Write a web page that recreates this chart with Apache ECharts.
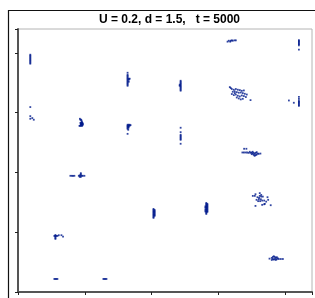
<!DOCTYPE html>
<html>
<head>
<meta charset="utf-8">
<script src="https://cdn.jsdelivr.net/npm/echarts@6/dist/echarts.min.js"></script>
<style>
  html, body { margin: 0; padding: 0; background: #fff; }
  #chart { width: 315px; height: 298px; }
</style>
</head>
<body>
<div id="chart"></div>
<script>
var titleText = 'U = 0.2, d = 1.5,   t = 5000'
var xTicks = [0, 5, 10, 15, 20]
var yTicks = [0, 5, 10, 15, 20]

// particle groups (x, y)
var g01 = [[0.92, 19.10], [0.92, 19.18], [0.92, 19.27], [0.92, 19.35], [0.92, 19.43], [0.92, 19.52], [0.92, 19.60], [0.92, 19.69], [0.92, 19.77], [0.92, 19.85]]
var g02 = [[0.92, 15.47], [0.92, 14.71], [0.92, 14.49], [1.07, 14.55], [1.18, 14.41]]
var g03 = [[4.63, 14.49], [4.67, 14.41], [4.73, 14.41], [4.75, 14.32], [4.78, 14.24], [4.67, 14.15], [4.73, 14.15], [4.78, 14.15], [4.82, 14.15], [4.70, 14.07], [4.75, 14.07], [4.80, 14.07], [4.85, 14.07], [4.70, 13.99], [4.75, 13.99], [4.80, 13.99], [4.85, 13.99], [4.60, 13.90], [4.65, 13.90], [4.73, 13.90], [4.80, 13.90]]
var g04 = [[8.20, 18.34], [8.20, 18.17], [8.20, 18.09], [8.20, 18.01], [8.20, 17.92], [8.20, 17.84], [8.20, 17.76], [8.20, 17.67], [8.20, 17.59], [8.20, 17.50], [8.20, 17.42], [8.20, 17.34], [8.20, 17.25], [8.29, 17.84], [8.36, 17.84], [8.29, 17.76], [8.29, 17.59]]
var g05 = [[8.20, 13.99], [8.27, 13.99], [8.35, 13.99], [8.42, 13.96], [8.20, 13.90], [8.27, 13.90], [8.35, 13.90], [8.20, 13.82], [8.27, 13.82], [8.20, 13.74], [8.27, 13.74], [8.20, 13.65], [8.25, 13.57], [8.20, 13.23]]
var g06 = [[15.68, 20.94], [15.77, 21.02], [15.88, 20.94], [15.92, 21.02], [16.00, 21.05], [16.07, 21.02], [16.20, 21.05], [16.30, 21.05]]
var g07 = [[21.02, 21.06], [21.02, 20.98], [21.02, 20.90], [21.02, 20.81], [21.02, 20.73], [21.02, 20.64], [21.02, 20.27]]
var g08 = [[12.17, 17.67], [12.17, 17.59], [12.17, 17.50], [12.17, 17.42], [12.17, 17.34], [12.17, 17.25], [12.17, 17.17], [12.17, 17.09], [12.17, 17.01], [12.17, 16.92], [12.17, 16.84], [12.10, 17.34], [12.10, 17.25]]
var g09 = [[15.85, 17.14], [15.92, 17.06], [16.00, 16.98], [16.15, 16.92], [16.30, 16.98], [16.45, 16.92], [16.60, 16.89], [16.75, 16.83], [16.90, 16.86], [16.07, 16.75], [16.22, 16.78], [16.37, 16.72], [16.52, 16.67], [16.67, 16.69], [16.82, 16.64], [16.97, 16.58], [17.12, 16.52], [16.00, 16.56], [16.15, 16.47], [16.30, 16.52], [16.45, 16.42], [16.60, 16.36], [16.75, 16.44], [16.90, 16.39], [17.05, 16.31], [16.37, 16.27], [16.52, 16.19], [16.82, 16.16], [16.67, 16.11], [16.22, 16.64], [17.40, 16.05]]
var g10 = [[20.27, 16.02], [20.64, 15.83], [21.02, 16.33], [21.02, 16.16], [21.02, 16.00], [21.02, 15.91], [21.02, 15.83], [21.02, 15.75], [21.02, 15.66], [21.02, 15.58]]
var g11 = [[12.17, 13.74], [12.17, 13.37], [12.17, 13.15], [12.17, 13.07], [12.17, 12.98], [12.17, 12.90], [12.17, 12.81], [12.17, 12.73], [12.17, 12.40]]
var g12 = [[16.92, 11.98], [17.09, 11.98], [16.79, 11.67], [16.90, 11.67], [17.02, 11.67], [17.14, 11.67], [17.26, 11.64], [17.34, 11.73], [17.41, 11.64], [17.49, 11.67], [17.56, 11.58], [17.64, 11.64], [17.71, 11.56], [17.79, 11.64], [17.86, 11.50], [17.94, 11.58], [18.01, 11.56], [17.49, 11.53], [17.64, 11.47], [17.71, 11.39], [17.79, 11.45], [18.14, 11.58], [17.56, 11.73], [17.86, 11.70]]
var g13 = [[3.92, 9.72], [4.03, 9.72], [4.12, 9.72], [4.22, 9.72], [4.70, 9.94], [4.70, 9.84], [4.55, 9.72], [4.62, 9.76], [4.70, 9.76], [4.77, 9.72], [4.85, 9.72], [4.62, 9.63], [4.70, 9.63], [4.97, 9.72]]
var g14 = [[10.14, 6.95], [10.14, 6.87], [10.14, 6.78], [10.14, 6.70], [10.14, 6.62], [10.14, 6.53], [10.14, 6.45], [10.14, 6.37], [10.14, 6.28], [10.14, 6.20], [10.22, 6.87], [10.22, 6.78], [10.22, 6.70], [10.22, 6.62], [10.22, 6.53], [10.22, 6.45], [10.22, 6.37]]
var g15 = [[2.72, 4.69], [2.80, 4.69], [2.87, 4.69], [2.95, 4.69], [2.80, 4.77], [2.80, 4.61], [2.80, 4.52], [2.80, 4.44], [3.05, 4.75], [3.25, 4.75], [3.37, 4.63]]
var g16 = [[2.72, 1.09], [2.80, 1.09], [2.87, 1.09], [2.95, 1.09]]
var g17 = [[6.39, 1.09], [6.47, 1.09], [6.54, 1.09], [6.62, 1.09]]
var g18 = [[14.09, 7.45], [14.09, 7.37], [14.09, 7.29], [14.09, 7.20], [14.09, 7.12], [14.09, 7.04], [14.09, 6.95], [14.09, 6.87], [14.09, 6.78], [14.09, 6.70], [14.09, 6.62], [14.09, 6.53], [14.17, 7.37], [14.17, 7.29], [14.17, 7.20], [14.17, 7.12], [14.17, 7.04], [14.17, 6.95], [14.17, 6.87], [14.17, 6.78], [14.17, 6.70], [14.02, 7.16], [14.02, 7.04], [14.02, 6.87], [14.02, 6.74]]
var g19 = [[17.57, 8.04], [17.72, 8.04], [17.77, 8.18], [17.92, 7.93], [18.09, 8.27], [18.09, 8.04], [18.20, 7.98], [18.32, 7.98], [18.02, 7.76], [18.17, 7.76], [17.85, 7.71], [17.97, 7.60], [18.12, 7.60], [18.27, 7.65], [18.42, 7.65], [18.67, 7.93], [18.72, 7.71], [18.57, 7.56], [18.42, 7.34], [18.27, 7.29], [18.47, 7.37], [18.91, 7.26], [17.77, 7.20], [18.20, 8.12], [18.04, 7.87]]
var g20 = [[18.82, 2.79], [18.99, 2.85], [19.07, 2.93], [19.14, 2.99], [19.22, 2.93], [19.29, 2.85], [19.37, 2.91], [19.44, 2.82], [19.07, 2.76], [19.14, 2.71], [19.22, 2.76], [19.29, 2.68], [19.37, 2.74], [19.52, 2.76], [18.99, 2.68], [19.67, 2.76], [19.82, 2.76]]

var groups = [g01, g02, g03, g04, g05, g06, g07, g08, g09, g10, g11, g12, g13, g14, g15, g16, g17, g18, g19, g20]
var points = []
groups.forEach(function (g) {
  points = points.concat(g)
})

var chartDom = document.getElementById('chart')
var myChart = echarts.init(chartDom, null, { renderer: 'canvas' })

var axisBase = {
  type: 'value',
  min: 0,
  max: 22,
  interval: 5,
  axisLabel: { show: false },
  splitLine: { show: false },
  axisTick: {
    show: true,
    inside: false,
    length: 3,
    lineStyle: { color: '#222', width: 1 }
  },
  axisLine: {
    show: true,
    lineStyle: { color: '#555', width: 2 }
  }
}

var option = {
  animation: false,
  backgroundColor: '#fff',
  grid: {
    left: 18,
    top: 29,
    right: 3,
    bottom: 6,
    show: true,
    borderColor: '#b4b4b4',
    borderWidth: 1,
    backgroundColor: '#fff'
  },
  graphic: [
    {
      type: 'rect',
      z: -1,
      shape: { x: 8.5, y: 10.5, width: 330, height: 320 },
      style: { fill: 'none', stroke: '#111', lineWidth: 1.2 }
    },
    {
      type: 'text',
      x: 169.5,
      y: 20,
      style: {
        text: titleText,
        font: 'bold 12px "Liberation Sans", Arial, sans-serif',
        fill: '#000',
        align: 'center',
        verticalAlign: 'middle'
      }
    }
  ],
  xAxis: Object.assign({}, axisBase, { position: 'bottom' }),
  yAxis: Object.assign({}, axisBase, { position: 'left' }),
  series: [
    {
      type: 'scatter',
      data: points,
      symbol: 'rect',
      symbolSize: 1.8,
      itemStyle: { color: '#001a8c' },
      silent: true
    }
  ]
}

option && myChart.setOption(option)
</script>
</body>
</html>
